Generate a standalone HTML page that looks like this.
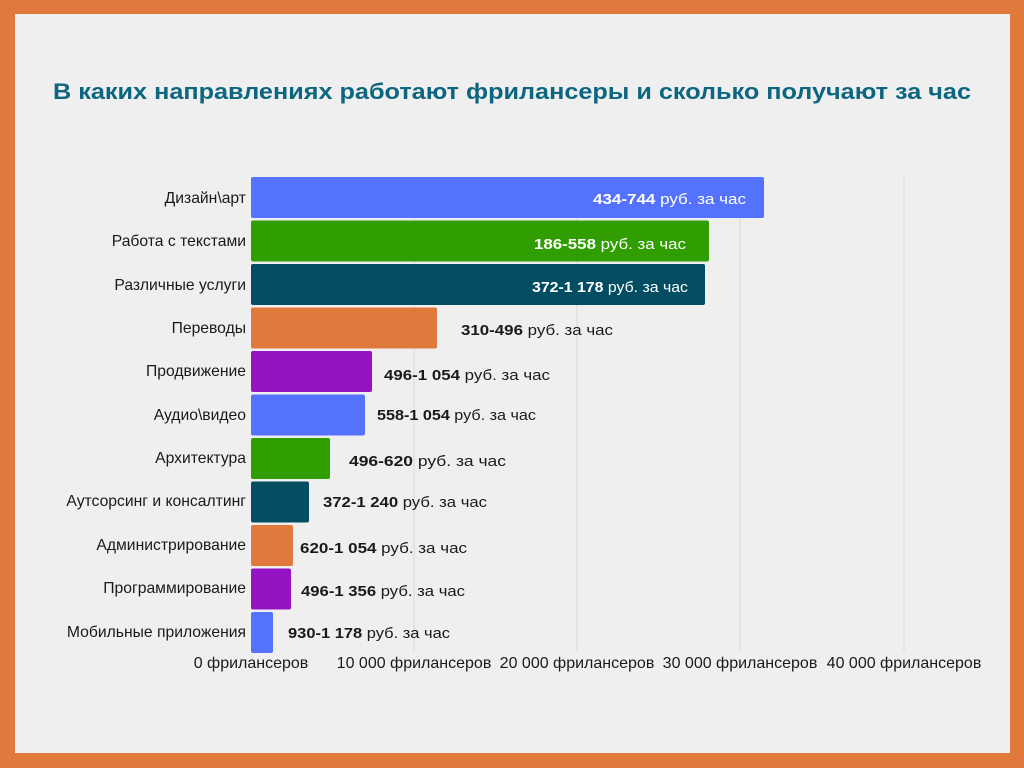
<!DOCTYPE html>
<html><head><meta charset="utf-8">
<style>
html,body{margin:0;padding:0;}
body{width:1024px;height:768px;background:#e07a3c;position:relative;overflow:hidden;}
#inner{position:absolute;left:15px;top:14px;width:995px;height:739px;background:#efefef;}
svg{position:absolute;left:0;top:0;}
text{font-family:"Liberation Sans","DejaVu Sans",sans-serif;}
</style></head><body>
<div id="inner"></div>
<svg width="1024" height="768" xmlns="http://www.w3.org/2000/svg">
<text x="512" y="99" text-anchor="middle" font-size="22" font-weight="bold" fill="#0d6680" font-family="DejaVu Sans, sans-serif" textLength="918" lengthAdjust="spacingAndGlyphs">В каких направлениях работают фрилансеры и сколько получают за час</text>
<g stroke="#d8d8d8" stroke-width="1">
<line x1="414" y1="177" x2="414" y2="652"/>
<line x1="577" y1="177" x2="577" y2="652"/>
<line x1="740" y1="177" x2="740" y2="652"/>
<line x1="904" y1="177" x2="904" y2="652"/>
</g>
<g>
<rect x="251" y="177" width="513" height="41" rx="2" fill="#5472fe"/>
<rect x="251" y="220.5" width="458" height="41" rx="2" fill="#309e00"/>
<rect x="251" y="264" width="454" height="41" rx="2" fill="#034d63"/>
<rect x="251" y="307.5" width="186" height="41" rx="2" fill="#e07a3c"/>
<rect x="251" y="351" width="121" height="41" rx="2" fill="#9414c4"/>
<rect x="251" y="394.5" width="114" height="41" rx="2" fill="#5472fe"/>
<rect x="251" y="438" width="79" height="41" rx="2" fill="#309e00"/>
<rect x="251" y="481.5" width="58" height="41" rx="2" fill="#034d63"/>
<rect x="251" y="525" width="42" height="41" rx="2" fill="#e07a3c"/>
<rect x="251" y="568.5" width="40" height="41" rx="2" fill="#9414c4"/>
<rect x="251" y="612" width="22" height="41" rx="2" fill="#5472fe"/>
</g>
<g font-size="15.7" fill="#1a1a1a" text-anchor="end">
<text x="246" y="203">Дизайн\арт</text>
<text x="246" y="246">Работа с текстами</text>
<text x="246" y="290">Различные услуги</text>
<text x="246" y="333">Переводы</text>
<text x="246" y="376">Продвижение</text>
<text x="246" y="420">Аудио\видео</text>
<text x="246" y="463">Архитектура</text>
<text x="246" y="506">Аутсорсинг и консалтинг</text>
<text x="246" y="550">Администрирование</text>
<text x="246" y="593">Программирование</text>
<text x="246" y="637">Мобильные приложения</text>
</g>
<g font-size="15" lengthAdjust="spacingAndGlyphs">
<text x="593" y="204" fill="#fff" textLength="153" lengthAdjust="spacingAndGlyphs"><tspan font-weight="bold">434-744</tspan>  руб. за час</text>
<text x="534" y="249" fill="#fff" textLength="152" lengthAdjust="spacingAndGlyphs"><tspan font-weight="bold">186-558</tspan>  руб. за час</text>
<text x="532" y="292" fill="#fff" textLength="156" lengthAdjust="spacingAndGlyphs"><tspan font-weight="bold">372-1 178</tspan> руб. за час</text>
<g fill="#1a1a1a">
<text x="461" y="335" textLength="152" lengthAdjust="spacingAndGlyphs"><tspan font-weight="bold">310-496</tspan>  руб. за час</text>
<text x="384" y="380" textLength="166" lengthAdjust="spacingAndGlyphs"><tspan font-weight="bold">496-1 054</tspan>  руб. за час</text>
<text x="377" y="420" textLength="159" lengthAdjust="spacingAndGlyphs"><tspan font-weight="bold">558-1 054</tspan>  руб. за час</text>
<text x="349" y="466" textLength="157" lengthAdjust="spacingAndGlyphs"><tspan font-weight="bold">496-620</tspan>  руб. за час</text>
<text x="323" y="507" textLength="164" lengthAdjust="spacingAndGlyphs"><tspan font-weight="bold">372-1 240</tspan>  руб. за час</text>
<text x="300" y="553" textLength="167" lengthAdjust="spacingAndGlyphs"><tspan font-weight="bold">620-1 054</tspan>  руб. за час</text>
<text x="301" y="596" textLength="164" lengthAdjust="spacingAndGlyphs"><tspan font-weight="bold">496-1 356</tspan>  руб. за час</text>
<text x="288" y="638" textLength="162" lengthAdjust="spacingAndGlyphs"><tspan font-weight="bold">930-1 178</tspan>  руб. за час</text>
</g>
</g>
<g font-size="16" fill="#1a1a1a" text-anchor="middle">
<text x="251" y="668">0 фрилансеров</text>
<text x="414" y="668">10 000 фрилансеров</text>
<text x="577" y="668">20 000 фрилансеров</text>
<text x="740" y="668">30 000 фрилансеров</text>
<text x="904" y="668">40 000 фрилансеров</text>
</g>
</svg>
</body></html>
